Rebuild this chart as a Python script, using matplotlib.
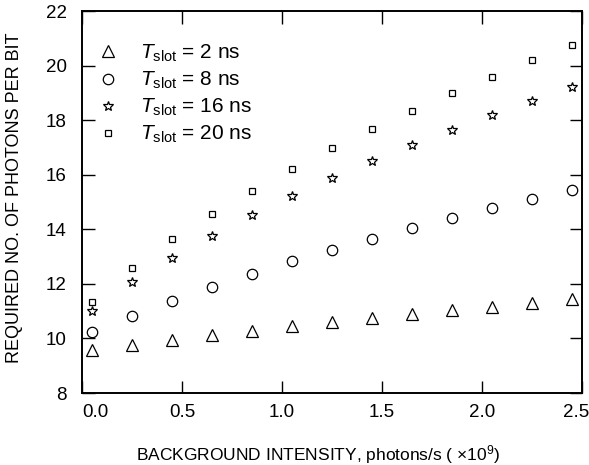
import numpy as np
import matplotlib as mpl
mpl.use('Agg')
import matplotlib.pyplot as plt
import matplotlib.transforms as mtransforms

plt.rcParams['font.family'] = ['Liberation Sans', 'DejaVu Sans']
plt.rcParams['mathtext.fontset'] = 'custom'
plt.rcParams['mathtext.rm'] = 'Liberation Sans'
plt.rcParams['mathtext.it'] = 'Liberation Sans:italic'

####################################################################################

intensity = [0.05, 0.25, 0.45, 0.65, 0.85, 1.05, 1.25, 1.45, 1.65, 1.85, 2.05, 2.25, 2.45]

photons_2ns = [9.58, 9.77, 9.95, 10.11, 10.28, 10.44, 10.60, 10.74, 10.90, 11.05, 11.17, 11.29, 11.45]
photons_8ns = [10.22, 10.84, 11.38, 11.90, 12.37, 12.82, 13.25, 13.65, 14.04, 14.41, 14.77, 15.11, 15.45]
photons_16ns = [10.99, 12.05, 12.96, 13.77, 14.53, 15.22, 15.88, 16.49, 17.09, 17.64, 18.19, 18.71, 19.20]
photons_20ns = [11.35, 12.57, 13.64, 14.56, 15.42, 16.21, 16.97, 17.68, 18.35, 18.99, 19.59, 20.21, 20.75]

slot_labels = ['2', '8', '16', '20']
xticks = [0.0, 0.5, 1.0, 1.5, 2.0, 2.5]
yticks = [8, 10, 12, 14, 16, 18, 20, 22]

####################################################################################

fig = plt.figure(figsize=(5.89, 4.65), dpi=100)
ax = fig.add_axes([82/589, 1-393/465, 500/589, 382/465])

series = [photons_2ns, photons_8ns, photons_16ns, photons_20ns]
markers = ['^', 'o', '*', 's']
msizes = [8, 7.5, 7.5, 5]

for y, m, ms, lab in zip(series, markers, msizes, slot_labels):
    ax.plot(intensity, y, m, markerfacecolor='none', markeredgecolor='k',
            markeredgewidth=0.9, markersize=ms, linestyle='none',
            label=r'$T_{\rm slot}$ = ' + lab + ' ns')

ax.set_xlim(0, 2.5)
ax.set_ylim(8, 22)
ax.set_xticks(xticks)
ax.set_yticks(yticks)
ax.set_xticklabels(['%.1f' % v for v in xticks])
ax.set_yticklabels([str(v) for v in yticks])

ax.tick_params(direction='in', top=True, right=True, length=9, width=1,
               labelsize=13.5)
ax.tick_params(axis='x', pad=8)
ax.tick_params(axis='y', pad=11)
for s in ax.spines.values():
    s.set_linewidth(1.4)

# keep first / last x labels inside the frame like the original
xl = ax.get_xticklabels()
xl[0].set_horizontalalignment('left')
xl[-1].set_transform(xl[-1].get_transform() +
                     mtransforms.ScaledTranslation(-6/100, 0, fig.dpi_scale_trans))

ax.legend(loc='upper left', bbox_to_anchor=(0.0, 0.955), frameon=False,
          fontsize=15, handletextpad=1.0, labelspacing=0.28,
          handlelength=1.1, borderaxespad=0.3)

fig.text(15/589, 1-198/465, 'REQUIRED NO. OF PHOTONS PER BIT', rotation=90,
         ha='center', va='center', fontsize=13)
fig.text(318/589, 1-455/465, r'BACKGROUND INTENSITY, photons/s ( $\times$10$^9$)',
         ha='center', va='center', fontsize=12.5)

fig.savefig('out.png', dpi=100)
